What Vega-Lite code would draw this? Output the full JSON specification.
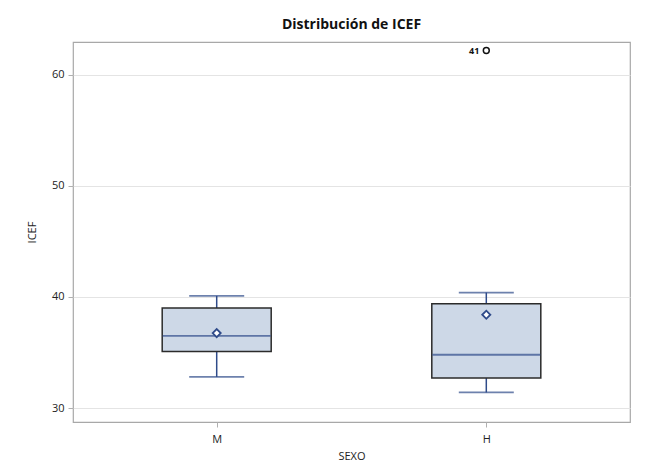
{
  "$schema": "https://vega.github.io/schema/vega-lite/v6.json",
  "autosize": "none",
  "width": 557,
  "height": 380,
  "padding": {"left": 73, "top": 42, "right": 23, "bottom": 46},
  "background": "white",
  "title": {"text": "Distribución de ICEF", "fontSize": 14, "fontWeight": "bold", "font": "Open Sans", "color": "#111", "offset": 10, "anchor": "middle"},
  "config": {
    "view": {"stroke": "#a8a8a8", "strokeWidth": 1.2},
    "axis": {"labelFont": "Open Sans", "titleFont": "Open Sans", "labelFontSize": 11, "titleFontSize": 11, "labelColor": "#222", "titleColor": "#222", "titleFontWeight": "normal", "domain": false, "tickColor": "#b0b0b0", "tickSize": 5}
  },
  "datasets": {
    "stats": [
      {"SEXO": "M", "min": 32.8, "q1": 35.1, "median": 36.5, "q3": 39.0, "max": 40.1, "mean": 36.75},
      {"SEXO": "H", "min": 31.4, "q1": 32.7, "median": 34.8, "q3": 39.4, "max": 40.4, "mean": 38.4}
    ],
    "outliers": [
      {"SEXO": "H", "ICEF": 62.2, "label": "41"}
    ]
  },
  "data": {"name": "stats"},
  "encoding": {
    "x": {"field": "SEXO", "type": "nominal", "sort": ["M", "H"], "scale": {"type": "point", "padding": 0.533},
      "axis": {"title": "SEXO", "labelAngle": 0, "labelPadding": 6, "titlePadding": 6, "grid": false}}
  },
  "layer": [
    {
      "mark": {"type": "rule", "color": "#2f4b8a", "strokeWidth": 1.5},
      "encoding": {
        "y": {"field": "q3", "type": "quantitative", "scale": {"domain": [28.74, 62.97], "nice": false, "zero": false},
          "axis": {"title": "ICEF", "values": [30, 40, 50, 60], "grid": true, "gridColor": "#e4e4e4", "labelPadding": 4, "titlePadding": 14}},
        "y2": {"field": "max"}
      }
    },
    {
      "mark": {"type": "rule", "color": "#2f4b8a", "strokeWidth": 1.5},
      "encoding": {"y": {"field": "min", "type": "quantitative"}, "y2": {"field": "q1"}}
    },
    {
      "mark": {"type": "tick", "color": "#2f4b8a", "size": 55, "thickness": 1.8, "orient": "horizontal"},
      "encoding": {"y": {"field": "max", "type": "quantitative"}}
    },
    {
      "mark": {"type": "tick", "color": "#2f4b8a", "size": 55, "thickness": 1.8, "orient": "horizontal"},
      "encoding": {"y": {"field": "min", "type": "quantitative"}}
    },
    {
      "mark": {"type": "bar", "size": 109, "fill": "#cdd8e7", "stroke": "#2b2b2b", "strokeWidth": 1.5},
      "encoding": {"y": {"field": "q1", "type": "quantitative"}, "y2": {"field": "q3"}}
    },
    {
      "mark": {"type": "tick", "color": "#2f4b8a", "size": 108, "thickness": 1.8, "orient": "horizontal"},
      "encoding": {"y": {"field": "median", "type": "quantitative"}}
    },
    {
      "mark": {"type": "point", "shape": "diamond", "filled": false, "fill": "white", "fillOpacity": 1, "stroke": "#2f4b8a", "strokeWidth": 1.8, "size": 65, "opacity": 1},
      "encoding": {"y": {"field": "mean", "type": "quantitative"}}
    },
    {
      "data": {"name": "outliers"},
      "mark": {"type": "point", "shape": "circle", "filled": false, "stroke": "#111", "strokeWidth": 1.5, "size": 35, "opacity": 1},
      "encoding": {"y": {"field": "ICEF", "type": "quantitative"}}
    },
    {
      "data": {"name": "outliers"},
      "mark": {"type": "text", "align": "right", "baseline": "middle", "dx": -7, "fontSize": 9, "font": "Open Sans", "fontWeight": "bold", "color": "#111", "clip": true},
      "encoding": {"y": {"field": "ICEF", "type": "quantitative"}, "text": {"field": "label"}}
    }
  ]
}
